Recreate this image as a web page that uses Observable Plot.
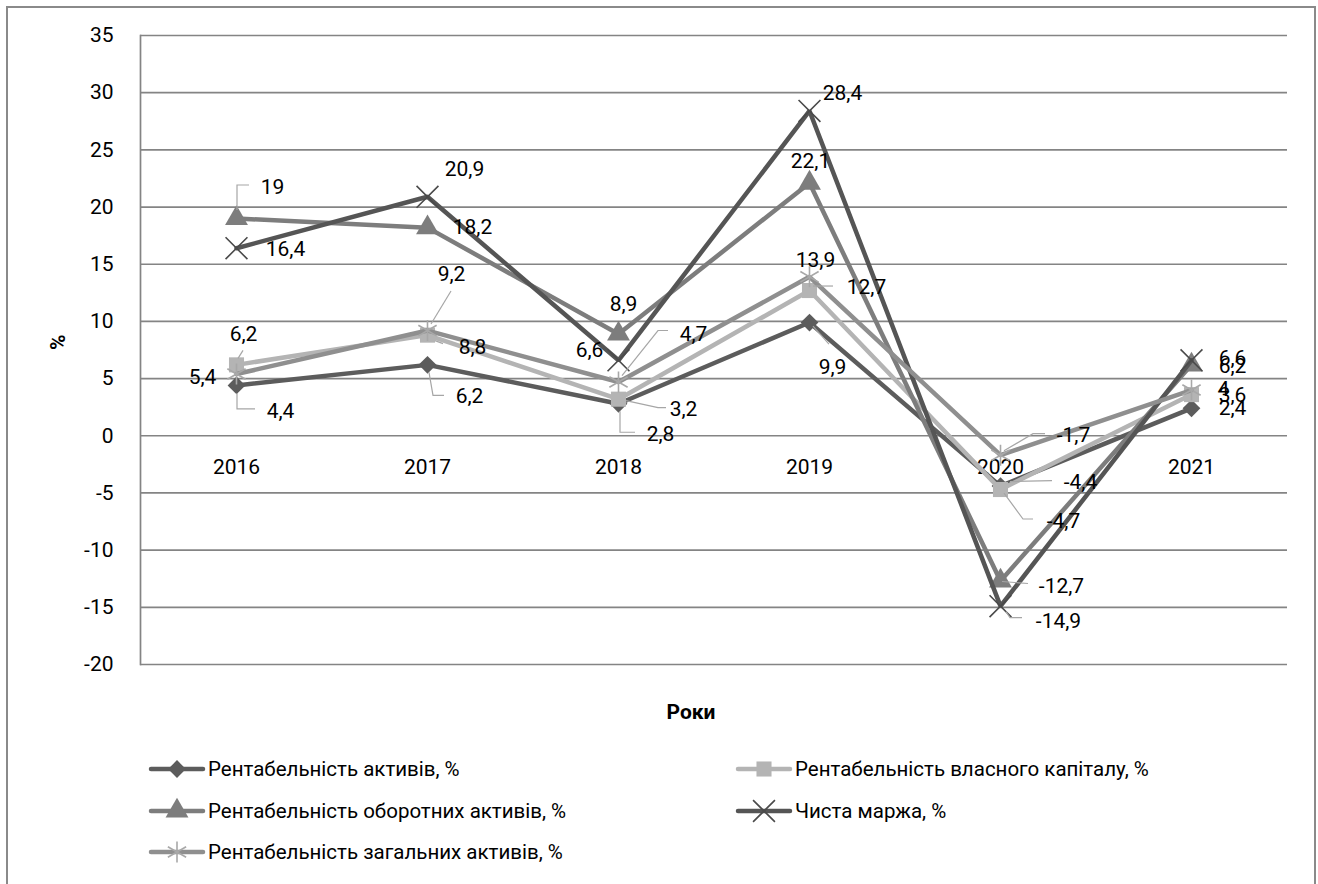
<!DOCTYPE html>
<html>
<head>
<meta charset="utf-8">
<script src="https://cdn.jsdelivr.net/npm/d3@7"></script>
<script src="https://cdn.jsdelivr.net/npm/@observablehq/plot@0.6"></script>
<style>
  html, body { margin: 0; padding: 0; background: #fff; }
  body { width: 1318px; height: 884px; position: relative; overflow: hidden; font-family: Roboto, "Noto Sans", sans-serif; }
  #border { position: absolute; left: 6px; top: 6px; width: 1310px; height: 900px; border: 2px solid #8a8a8a; box-sizing: border-box; }
  #chart { position: absolute; left: 0; top: 0; }
  .leg { position: absolute; display: flex; align-items: center; font-size: 20.5px; color: #000; white-space: nowrap; }
  .leg svg { display: block; margin-right: 2px; }
</style>
</head>
<body>
<div id="border"></div>
<div id="chart"></div>
<div id="legend"></div>
<script>
// ---- data ----
const years = ["2016", "2017", "2018", "2019", "2020", "2021"];
const seriesNames = [
  "Рентабельність активів, %",
  "Рентабельність власного капіталу, %",
  "Рентабельність оборотних активів, %",
  "Чиста маржа, %",
  "Рентабельність загальних активів, %"
];
const returnOnAssets       = [4.4, 6.2, 2.8, 9.9, -4.4, 2.4];
const returnOnEquity       = [6.2, 8.8, 3.2, 12.7, -4.7, 3.6];
const returnOnCurrent      = [19, 18.2, 8.9, 22.1, -12.7, 6.2];
const netMargin            = [16.4, 20.9, 6.6, 28.4, -14.9, 6.6];
const returnOnTotalAssets  = [5.4, 9.2, 4.7, 13.9, -1.7, 4];
const yTicks = [-20, -15, -10, -5, 0, 5, 10, 15, 20, 25, 30, 35];
const xTitle = "Роки";
const yTitle = "%";

// ---- styles (not data) ----
const seriesValues = [returnOnAssets, returnOnEquity, returnOnCurrent, netMargin, returnOnTotalAssets];
const styles = [
  {color: "#5c5c5c", symbol: "diamond2", r: 8, filled: true, mStroke: null},
  {color: "#b4b4b4", symbol: "square", r: 8.5, filled: true, mStroke: null},
  {color: "#7d7d7d", symbol: "triangle", r: 8.5, filled: true, mStroke: null},
  {color: "#555555", symbol: "times", r: 10, filled: false, mStroke: "#4a4a4a"},
  {color: "#8f8f8f", symbol: "asterisk", r: 10, filled: false, mStroke: "#a8a8a8"}
];
// label offsets (pixel dx, dy of label centre relative to its point)
const labelOffsets = [
  [[44, 26], [42, 31], [42, 31], [23, 45], [80, -4], [41, 0]],
  [[7, -31], [45, 12], [65, 10], [57, -3], [63, 32], [41, 1]],
  [[36, -31], [45, 0], [5, -30], [1, -22], [61, 5], [41, 1]],
  [[49, 1], [37, -27], [-29, -10], [33, -18], [58, 15], [41, -2]],
  [[-34, 3], [24, -56], [75, -48], [6, -17], [73, -20], [32, -1]]
];
// leader lines (pixel offsets from the point), null = no leader
const leaders = [
  [[[1, 8], [1, 24], [19, 24]], [[2, 8], [6, 31], [17, 31]], [[2, 8], [2, 29], [17, 29]], [[4, 4], [20, 22]], [[10, -4], [52, -5]], null],
  [[[2, -6], [7, -14]], [[8, 6], [16, 9]], [[8, 2], [40, 9], [48, 9]], [[4, -4], [24, -4]], [[4, 4], [23, 30], [33, 30]], null],
  [[[1, -8], [1, -33], [13, -33]], null, null, null, [[2, 1], [28, 3]], null],
  [null, null, null, null, [[6, 6], [10, 12], [22, 12]], null],
  [null, [[4, -6], [24, -39]], [[4, -6], [40, -51], [50, -51]], null, [[4, -4], [33, -21], [45, -21]], null]
];

const fmt = v => String(v).replace(".", ",");
const FONT = "Roboto, 'Noto Sans', sans-serif";
const FS = 21;

const rows = [];
seriesValues.forEach((vals, s) => vals.forEach((v, i) => rows.push({series: s, year: years[i], value: v, i})));

const marks = [
  Plot.gridY(yTicks, {stroke: "#848484", strokeWidth: 1.7, strokeOpacity: 1}),
  Plot.frame({anchor: "left", stroke: "#848484", strokeWidth: 1.7}),
  Plot.axisY(yTicks, {tickSize: 0, tickPadding: 27, fontSize: FS, fill: "#000", tickFormat: d => String(d), label: null}),
  // category labels along the zero line
  Plot.text(years, {x: d => d, y: () => 0, dy: 31, fontSize: FS, fill: "#000"})
];

seriesValues.forEach((vals, s) => {
  const st = styles[s];
  const data = rows.filter(d => d.series === s);
  marks.push(Plot.line(data, {x: "year", y: "value", stroke: st.color, strokeWidth: 4.5, strokeLinejoin: "miter", curve: "linear"}));
  if (st.filled) {
    marks.push(Plot.dot(data, {x: "year", y: "value", symbol: () => st.symbol, r: st.r, fill: st.color, stroke: "none"}));
  } else {
    marks.push(Plot.dot(data, {x: "year", y: "value", symbol: () => st.symbol, r: st.r, fill: "none", stroke: st.mStroke, strokeWidth: 1.6}));
  }
});

// data labels
rows.forEach(d => {
  const [dx, dy] = labelOffsets[d.series][d.i];
  marks.push(Plot.text([d], {x: "year", y: "value", text: e => fmt(e.value), dx, dy, fontSize: FS, fill: "#000", textAnchor: "middle"}));
});

// axis titles
marks.push(Plot.text([xTitle], {frameAnchor: "bottom", dx: -23, dy: 54, fontSize: FS, fontWeight: "bold", fill: "#000"}));
marks.push(Plot.text([yTitle], {frameAnchor: "left", dx: -82, rotate: -90, fontSize: FS, fontWeight: "bold", fill: "#000"}));

const chart = Plot.plot({
  width: 1318,
  height: 745,
  marginTop: 35,
  marginLeft: 140,
  marginRight: 31,
  marginBottom: 81,
  style: {fontFamily: FONT, fontSize: FS + "px", background: "transparent", overflow: "visible"},
  x: {type: "point", domain: years, padding: 0.5, axis: null},
  y: {domain: [-20, 35], axis: null, label: null},
  marks
});
document.getElementById("chart").appendChild(chart);

// leader lines, positioned through the plot's own scales
const xs = chart.scale("x"), ys = chart.scale("y");
const xPos = xs.apply ? (v => xs.apply(v)) : d3.scalePoint(xs.domain, xs.range).padding(0.5);
const yPos = ys.apply ? (v => ys.apply(v)) : d3.scaleLinear(ys.domain, ys.range);
const svg = d3.select(chart.tagName.toLowerCase() === "svg" ? chart : chart.querySelector("svg"));
const gLead = svg.append("g").attr("fill", "none").attr("stroke", "#a6a6a6").attr("stroke-width", 1.2);
rows.forEach(d => {
  const L = leaders[d.series][d.i];
  if (!L) return;
  const px = xPos(d.year), py = yPos(d.value);
  gLead.append("path").attr("d", "M" + L.map(([a, b]) => (px + a) + "," + (py + b)).join("L"));
});

// legend (HTML, below the svg)
const legendPos = [[148, 769], [735, 769], [148, 811], [735, 811], [148, 852]];
const legend = document.getElementById("legend");
const symMap = {diamond2: d3.symbolDiamond2, square: d3.symbolSquare, triangle: d3.symbolTriangle, times: d3.symbolTimes, asterisk: d3.symbolAsterisk};
seriesNames.forEach((name, s) => {
  const st = styles[s];
  const div = document.createElement("div");
  div.className = "leg";
  div.style.left = legendPos[s][0] + "px";
  div.style.top = (legendPos[s][1] - 14) + "px";
  div.style.height = "28px";
  div.style.fontFamily = FONT;
  const sw = d3.create("svg").attr("width", 58).attr("height", 28);
  sw.append("line").attr("x1", 3).attr("x2", 55).attr("y1", 14).attr("y2", 14).attr("stroke", st.color).attr("stroke-width", 4.5).attr("stroke-linecap", "round");
  const path = d3.symbol().type(symMap[st.symbol]).size(Math.PI * st.r * st.r)();
  const p = sw.append("path").attr("d", path).attr("transform", "translate(29,14)");
  if (st.filled) p.attr("fill", st.color); else p.attr("fill", "none").attr("stroke", st.mStroke).attr("stroke-width", 1.6);
  div.appendChild(sw.node());
  const t = document.createElement("span");
  t.textContent = name;
  div.appendChild(t);
  legend.appendChild(div);
});
</script>
</body>
</html>
